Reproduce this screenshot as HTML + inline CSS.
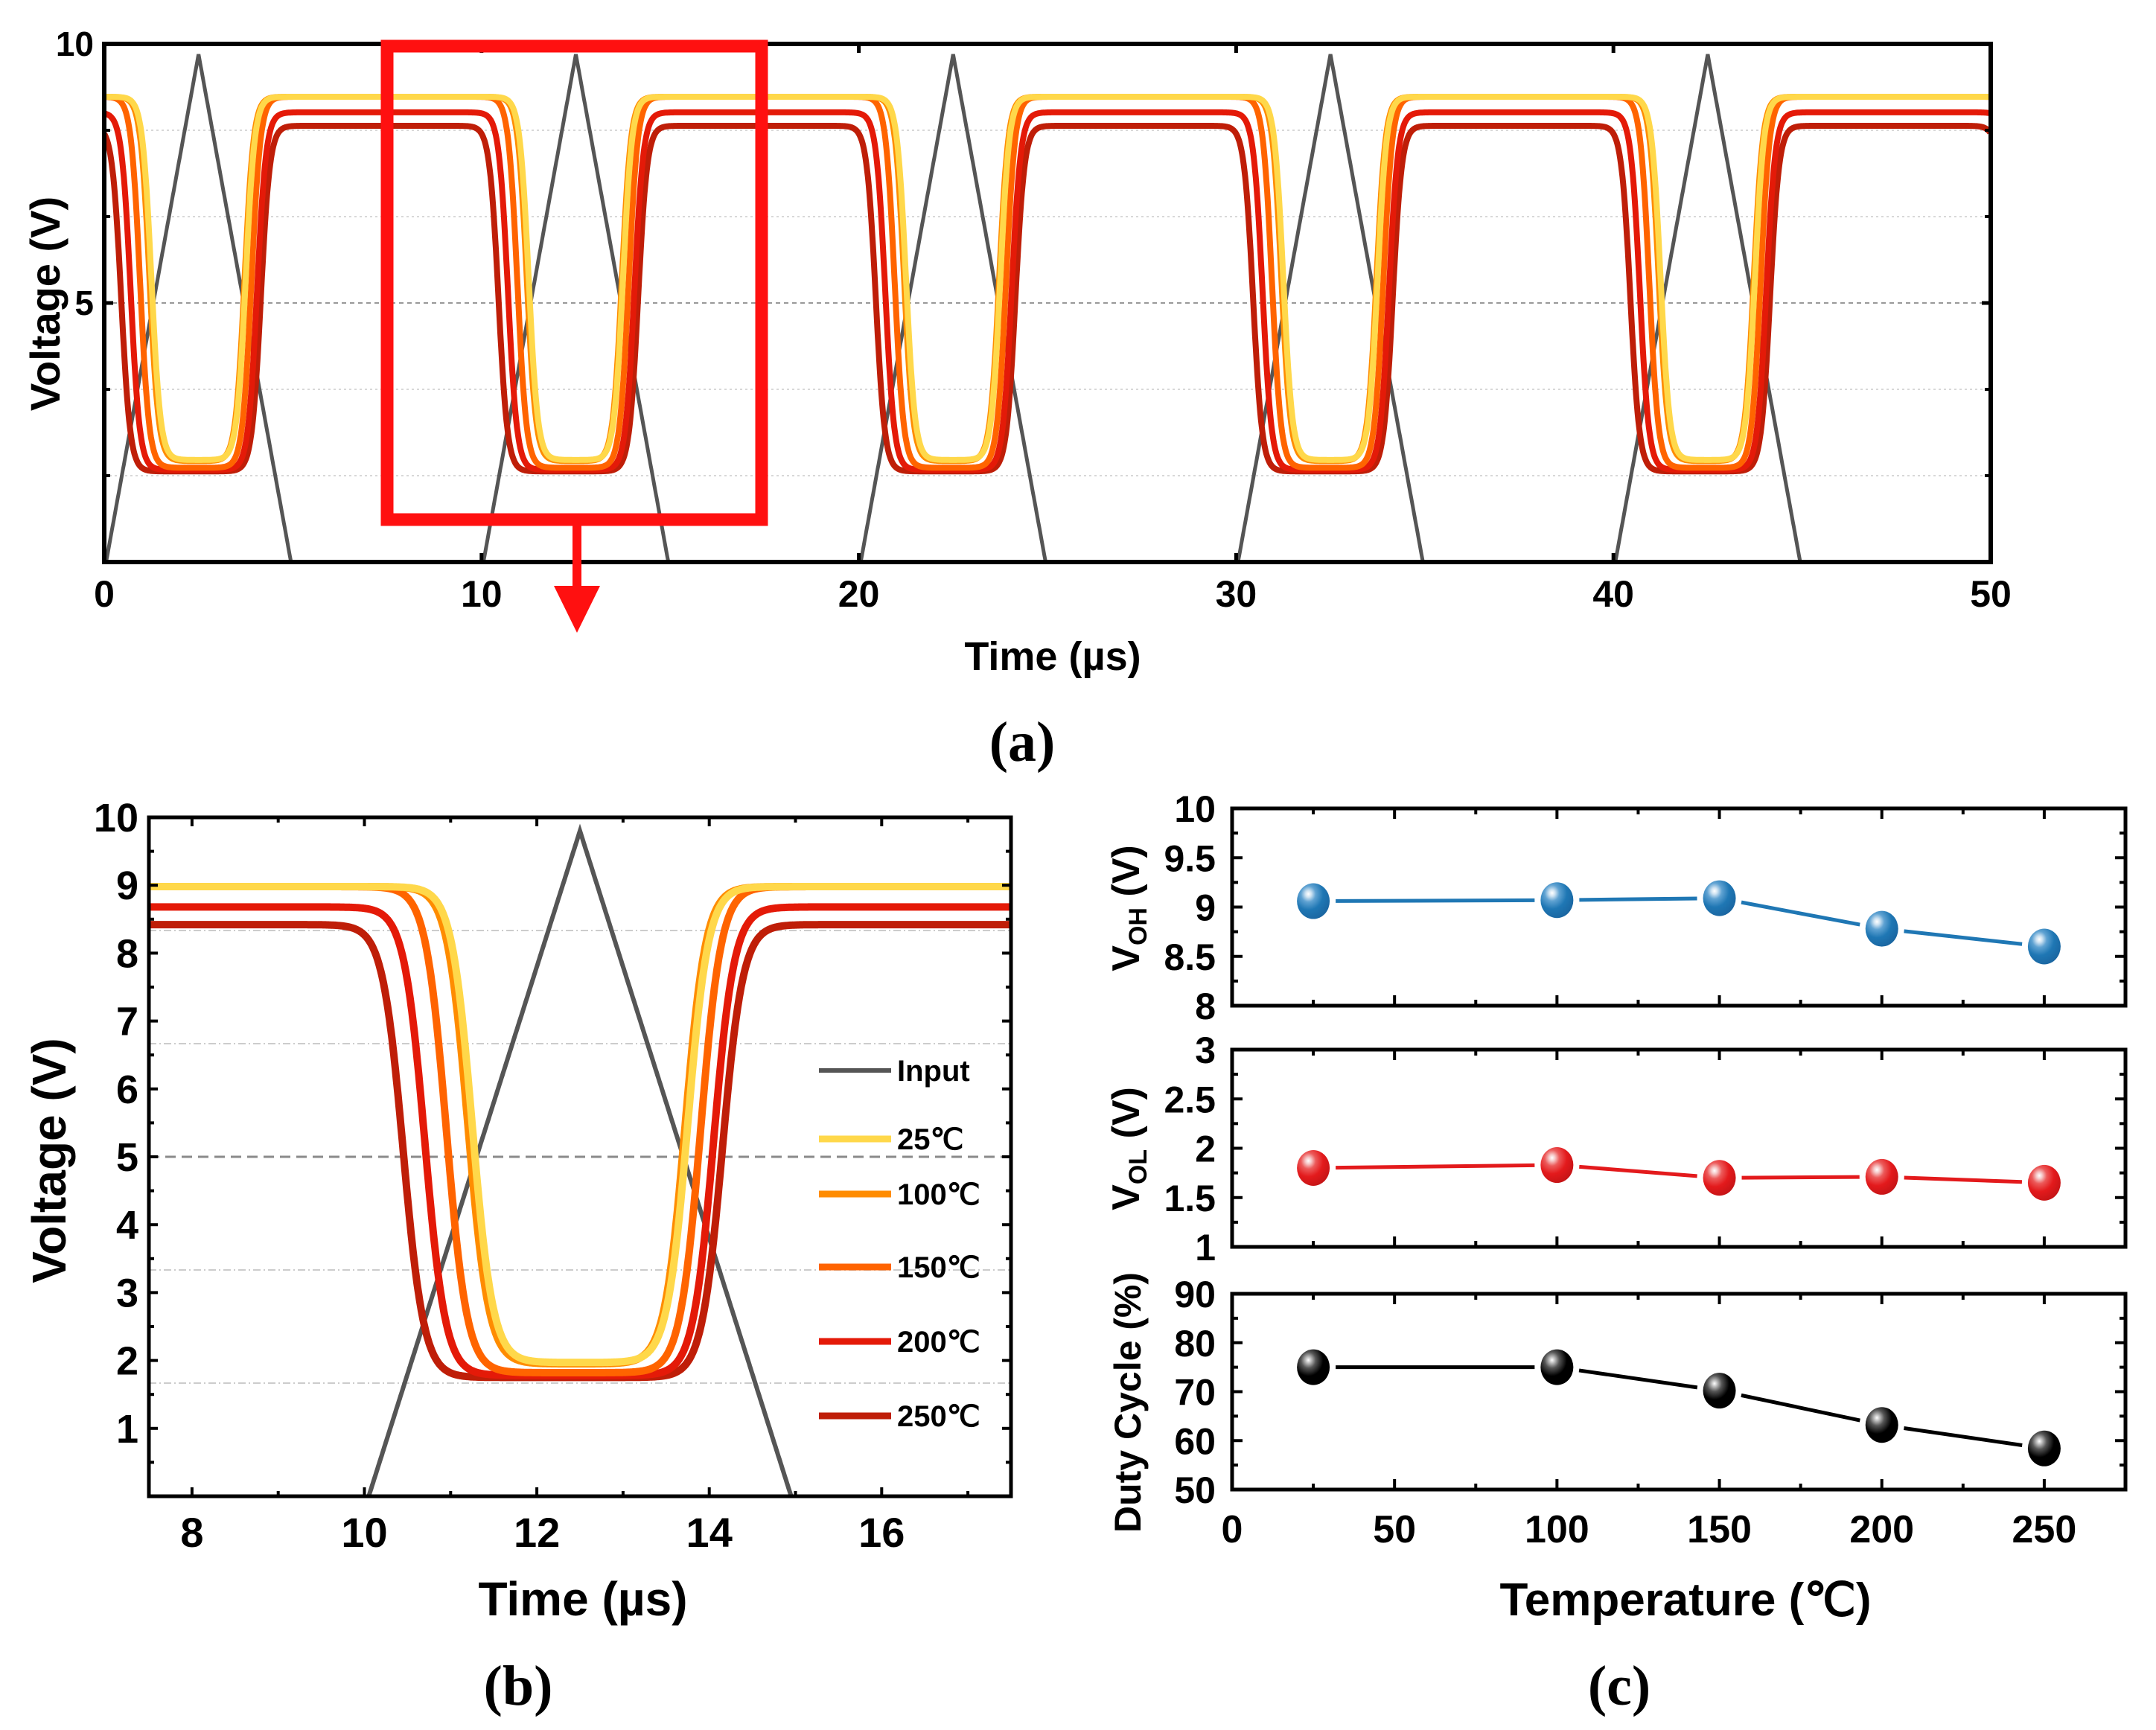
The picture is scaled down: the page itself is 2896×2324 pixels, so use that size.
<!DOCTYPE html>
<html><head><meta charset="utf-8"><style>
html,body{margin:0;padding:0;background:#fff;}
svg{display:block;}
text{font-family:"Liberation Sans",Arial,sans-serif;font-weight:bold;fill:#000;}
.serif{font-family:"Liberation Serif",serif;font-weight:bold;}
</style></head>
<body>
<svg id="fig" width="2896" height="2324" viewBox="0 0 2896 2324" xmlns="http://www.w3.org/2000/svg">
<defs>
<clipPath id="clipA"><rect x="140" y="59" width="2534" height="696"/></clipPath>
<clipPath id="clipB"><rect x="200" y="1098" width="1158" height="912"/></clipPath>
<radialGradient id="gBlue" cx="0.35" cy="0.3" r="0.75"><stop offset="0" stop-color="#fff"/><stop offset="0.12" stop-color="#cfe3f2"/><stop offset="0.3" stop-color="#5fa2d2"/><stop offset="0.6" stop-color="#1f77b4"/><stop offset="1" stop-color="#1a65a0"/></radialGradient>
<radialGradient id="gRed" cx="0.35" cy="0.3" r="0.75"><stop offset="0" stop-color="#fff"/><stop offset="0.12" stop-color="#f6c9c9"/><stop offset="0.3" stop-color="#ec5a5a"/><stop offset="0.6" stop-color="#e31a1c"/><stop offset="1" stop-color="#c41416"/></radialGradient>
<radialGradient id="gBlack" cx="0.35" cy="0.3" r="0.75"><stop offset="0" stop-color="#fff"/><stop offset="0.12" stop-color="#bbb"/><stop offset="0.3" stop-color="#555"/><stop offset="0.6" stop-color="#000"/><stop offset="1" stop-color="#000"/></radialGradient>
</defs>
<g id="panelA"></g>
<g id="panelB"></g>
<g id="panelC"></g>
</svg>
<script>
// ---------- data ----------
const seriesNames = ["25℃","100℃","150℃","200℃","250℃"];
const seriesColors = ["#ffd84a","#ff8c00","#ff6400","#e41a08","#bf1e08"];
const highLevels = [8.98, 8.98, 8.98, 8.68, 8.42];
const lowLevels = [1.97, 1.95, 1.82, 1.78, 1.75];
const fallOffsets = [1.25, 1.2, 0.95, 0.7, 0.45];   // µs after period start, 5V crossing
const riseOffsets = [3.75, 3.72, 3.9, 4.05, 4.15];
const inputPeak = 9.8;
const inputStart = 0.05, inputApex = 2.5, inputEnd = 4.95;
const periodLen = 10;
const aTicks = [0,10,20,30,40,50];
const aYTicks = [0,5,10];
const bXTicks = [8,10,12,14,16];
const bYTicks = [1,2,3,4,5,6,7,8,9,10];
const gridLevels = [1.667, 3.333, 6.667, 8.333];
const temps = [25,100,150,200,250];
const vohValues = [9.06, 9.07, 9.09, 8.78, 8.60];
const volValues = [1.80, 1.83, 1.70, 1.71, 1.65];
const dutyValues = [75.0, 75.0, 70.2, 63.2, 58.4];
const cXTicks = [0,50,100,150,200,250];
const vohTicks = ["10","9.5","9","8.5","8"];
const volTicks = ["3","2.5","2","1.5","1"];
const dutyTicks = ["90","80","70","60","50"];

const NS="http://www.w3.org/2000/svg";
function el(tag, attrs, parent, txt){const e=document.createElementNS(NS,tag);for(const k in attrs)e.setAttribute(k,attrs[k]);if(txt!==undefined)e.textContent=txt;parent.appendChild(e);return e;}
function sig(x){return 1/(1+Math.exp(-x));}
function outV(t,i){
  const p=((t+2)%periodLen+periodLen)%periodLen-2;
  const w=0.12;
  const s=1-sig((p-fallOffsets[i])/w)+sig((p-riseOffsets[i])/w);
  return lowLevels[i]+(highLevels[i]-lowLevels[i])*s;
}
function inV(t){
  const p=((t%periodLen)+periodLen)%periodLen;
  if(p<inputApex) return inputPeak*(p-inputStart)/(inputApex-inputStart);
  return inputPeak*(inputEnd-p)/(inputEnd-inputApex);
}

// ---------- panel A ----------
(function(){
  const g=document.getElementById('panelA');
  const X0=140,X1=2674,Y0=755,Y1=59;
  const sx=t=>X0+(t-0)/50*(X1-X0), sy=v=>Y0-(v/10)*(Y0-Y1);
  gridLevels.forEach(v=>{const l=el('line',{x1:X0,x2:X1,y1:sy(v),y2:sy(v),stroke:'#d8d8d8','stroke-width':2,'stroke-dasharray':'3,4'},g);
    
    });
  const d5=el('line',{x1:X0,x2:X1,y1:sy(5),y2:sy(5),stroke:'#999','stroke-width':2,'stroke-dasharray':'6,5'},g);
  
  
  const cg=el('g',{'clip-path':'url(#clipA)'},g);
  let d='';for(let t=0;t<=50;t+=0.02){d+=(d?'L':'M')+sx(t).toFixed(1)+','+sy(inV(t)).toFixed(1);}
  const ip=el('path',{d:d,fill:'none',stroke:'#555','stroke-width':5},cg);
  
  
  for(let i=seriesNames.length-1;i>=0;i--){
    let dd='';for(let t=0;t<=50;t+=0.02){dd+=(dd?'L':'M')+sx(t).toFixed(1)+','+sy(outV(t,i)).toFixed(1);}
    const p=el('path',{d:dd,fill:'none',stroke:seriesColors[i],'stroke-width':8,'stroke-linejoin':'round'},cg);
    
    
  }
  const fr=el('rect',{x:X0,y:Y1,width:X1-X0,height:Y0-Y1,fill:'none',stroke:'#000','stroke-width':6},g);
  
  
  aTicks.forEach(t=>{el('line',{x1:sx(t),x2:sx(t),y1:Y0,y2:Y0-12,stroke:'#000','stroke-width':5},g);el('line',{x1:sx(t),x2:sx(t),y1:Y1,y2:Y1+12,stroke:'#000','stroke-width':5},g);
    const tl=el('text',{x:sx(t),y:Y0+60,'text-anchor':'middle','font-size':50},g,String(t));
    
    });
  aYTicks.forEach(v=>{el('line',{x1:X0,x2:X0+12,y1:sy(v),y2:sy(v),stroke:'#000','stroke-width':5},g);el('line',{x1:X1,x2:X1-12,y1:sy(v),y2:sy(v),stroke:'#000','stroke-width':5},g);
    if(v>0){const tl=el('text',{x:X0-14,y:sy(v)+16,'text-anchor':'end','font-size':46},g,String(v));
    
    }});
  [1.667,3.333,6.667,8.333].forEach(v=>{el('line',{x1:X0,x2:X0+8,y1:sy(v),y2:sy(v),stroke:'#000','stroke-width':4},g);el('line',{x1:X1,x2:X1-8,y1:sy(v),y2:sy(v),stroke:'#000','stroke-width':4},g);});
  const yt=el('text',{x:0,y:0,transform:'translate(80,408) rotate(-90)','text-anchor':'middle','font-size':56},g,'Voltage (V)');
  
  
  const xt=el('text',{x:1414,y:900,'text-anchor':'middle','font-size':54},g,'Time (µs)');
  
  
  const lab=el('text',{x:1373,y:1022,'text-anchor':'middle','font-size':76,class:'serif'},g,'(a)');
  
  
  const box=el('rect',{x:520,y:62,width:503,height:636,fill:'none',stroke:'#ff1010','stroke-width':17},g);
  
  
  const ar=el('path',{d:'M769,706 L781,706 L781,787 L806,787 L775,850 L744,787 L769,787 Z',fill:'#ff1010'},g);
  
  
})();

// ---------- panel B ----------
(function(){
  const g=document.getElementById('panelB');
  const X0=200,X1=1358,Y0=2010,Y1=1098;
  const sx=t=>X0+(t-7.5)/10*(X1-X0), sy=v=>Y0-(v/10)*(Y0-Y1);
  gridLevels.forEach(v=>{const l=el('line',{x1:X0,x2:X1,y1:sy(v),y2:sy(v),stroke:'#cccccc','stroke-width':2,'stroke-dasharray':'10,4,2,4'},g);
    
    });
  const d5=el('line',{x1:X0,x2:X1,y1:sy(5),y2:sy(5),stroke:'#8a8a8a','stroke-width':3,'stroke-dasharray':'14,8'},g);
  
  
  const cg=el('g',{'clip-path':'url(#clipB)'},g);
  let d='';for(let t=10;t<=15;t+=0.01){d+=(d?'L':'M')+sx(t).toFixed(1)+','+sy(inV(t)).toFixed(1);}
  const ip=el('path',{d:d,fill:'none',stroke:'#555','stroke-width':6},cg);
  
  
  for(let i=seriesNames.length-1;i>=0;i--){
    let dd='';for(let t=7.5;t<=17.5;t+=0.01){dd+=(dd?'L':'M')+sx(t).toFixed(1)+','+sy(outV(t,i)).toFixed(1);}
    const p=el('path',{d:dd,fill:'none',stroke:seriesColors[i],'stroke-width':10,'stroke-linejoin':'round'},cg);
    
    
  }
  const fr=el('rect',{x:X0,y:Y1,width:X1-X0,height:Y0-Y1,fill:'none',stroke:'#000','stroke-width':5},g);
  
  
  for(let t=8;t<=17;t+=1){const maj=(t%2===0);el('line',{x1:sx(t),x2:sx(t),y1:Y0,y2:Y0-(maj?12:7),stroke:'#000','stroke-width':4},g);el('line',{x1:sx(t),x2:sx(t),y1:Y1,y2:Y1+(maj?12:7),stroke:'#000','stroke-width':4},g);}
  bXTicks.forEach(t=>{const tl=el('text',{x:sx(t),y:Y0+68,'text-anchor':'middle','font-size':56},g,String(t));
    
    });
  for(let v=0.5;v<=10;v+=0.5){const maj=(v%1===0);el('line',{x1:X0,x2:X0+(maj?12:7),y1:sy(v),y2:sy(v),stroke:'#000','stroke-width':4},g);el('line',{x1:X1,x2:X1-(maj?12:7),y1:sy(v),y2:sy(v),stroke:'#000','stroke-width':4},g);}
  bYTicks.forEach(v=>{const tl=el('text',{x:X0-14,y:sy(v)+19,'text-anchor':'end','font-size':54},g,String(v));
    
    });
  const yt=el('text',{x:0,y:0,transform:'translate(88,1559) rotate(-90)','text-anchor':'middle','font-size':64},g,'Voltage (V)');
  
  
  const xt=el('text',{x:783,y:2170,'text-anchor':'middle','font-size':64},g,'Time (µs)');
  
  
  const lab=el('text',{x:696,y:2290,'text-anchor':'middle','font-size':76,class:'serif'},g,'(b)');
  
  
  const legY=[1438,1530,1604,1702,1802,1902];
  const legNames=['Input'].concat(seriesNames), legCols=['#555'].concat(seriesColors);
  legNames.forEach((n,k)=>{
    const lg=el('g',{},g);
    
    
    el('line',{x1:1100,x2:1197,y1:legY[k],y2:legY[k],stroke:legCols[k],'stroke-width':k?9:6},lg);
    el('text',{x:1205,y:legY[k]+14,'font-size':40},lg,n);
  });
})();

// ---------- panel C ----------
(function(){
  const g=document.getElementById('panelC');
  const X0=1655,X1=2855;
  const sx=t=>X0+t/275*(X1-X0);
  const subs=[
    {top:1086,bot:1351,min:8,max:10,vals:vohValues,ticks:vohTicks,col:'#1f77b4',grad:'gBlue',name:'voh'},
    {top:1410,bot:1675,min:1,max:3,vals:volValues,ticks:volTicks,col:'#e31a1c',grad:'gRed',name:'vol'},
    {top:1738,bot:2001,min:50,max:90,vals:dutyValues,ticks:dutyTicks,col:'#000',grad:'gBlack',name:'duty-cycle'}];
  subs.forEach((s,si)=>{
    const sg=el('g',{},g);
    
    
    const sy=v=>s.bot-(v-s.min)/(s.max-s.min)*(s.bot-s.top);
    el('rect',{x:X0,y:s.top,width:X1-X0,height:s.bot-s.top,fill:'none',stroke:'#000','stroke-width':5},sg);
    for(let t=0;t<=275;t+=25){const maj=(t%50===0);
      el('line',{x1:sx(t),x2:sx(t),y1:s.bot,y2:s.bot-(maj?14:8),stroke:'#000','stroke-width':4},sg);
      el('line',{x1:sx(t),x2:sx(t),y1:s.top,y2:s.top+(maj?14:8),stroke:'#000','stroke-width':4},sg);}
    for(let k=0;k<=8;k++){const v=s.min+(s.max-s.min)*k/8;const maj=(k%2===0);
      el('line',{x1:X0,x2:X0+(maj?14:8),y1:sy(v),y2:sy(v),stroke:'#000','stroke-width':4},sg);
      el('line',{x1:X1,x2:X1-(maj?14:8),y1:sy(v),y2:sy(v),stroke:'#000','stroke-width':4},sg);}
    s.ticks.forEach((lbl,k)=>{const v=s.max-(s.max-s.min)*k/4;
      const tl=el('text',{x:1633,y:sy(v)+18,'text-anchor':'end','font-size':50},sg,lbl);
      
      });
    const r=22;
    for(let i=0;i<temps.length-1;i++){
      const x1=sx(temps[i]),y1=sy(s.vals[i]),x2=sx(temps[i+1]),y2=sy(s.vals[i+1]);
      const L=Math.hypot(x2-x1,y2-y1),ux=(x2-x1)/L,uy=(y2-y1)/L,gp=r+8;
      const seg=el('line',{x1:x1+ux*gp,y1:y1+uy*gp,x2:x2-ux*gp,y2:y2-uy*gp,stroke:s.col,'stroke-width':5},sg);
      
      
    }
    temps.forEach((t,i)=>{
      const m=el('ellipse',{cx:sx(t),cy:sy(s.vals[i]),rx:r,ry:r+2,fill:'url(#'+s.grad+')'},sg);
      
      
    });
  });
  cXTicks.forEach(t=>{const tl=el('text',{x:sx(t),y:2072,'text-anchor':'middle','font-size':52},g,String(t));
    
    });
  const t1=el('text',{x:0,y:0,transform:'translate(1530,1220) rotate(-90)','text-anchor':'middle','font-size':52},g);
  
  
  t1.innerHTML='V<tspan font-size="34" dy="10">OH</tspan><tspan dy="-10"> (V)</tspan>';
  const t2=el('text',{x:0,y:0,transform:'translate(1530,1543) rotate(-90)','text-anchor':'middle','font-size':52},g);
  
  
  t2.innerHTML='V<tspan font-size="34" dy="10">OL</tspan><tspan dy="-10"> (V)</tspan>';
  const t3=el('text',{x:0,y:0,transform:'translate(1532,1884) rotate(-90)','text-anchor':'middle','font-size':50},g,'Duty Cycle (%)');
  
  
  const xt=el('text',{x:2264,y:2170,'text-anchor':'middle','font-size':62},g,'Temperature (℃)');
  
  
  const lab=el('text',{x:2175,y:2290,'text-anchor':'middle','font-size':76,class:'serif'},g,'(c)');
  
  
})();
</script>
</body></html>
